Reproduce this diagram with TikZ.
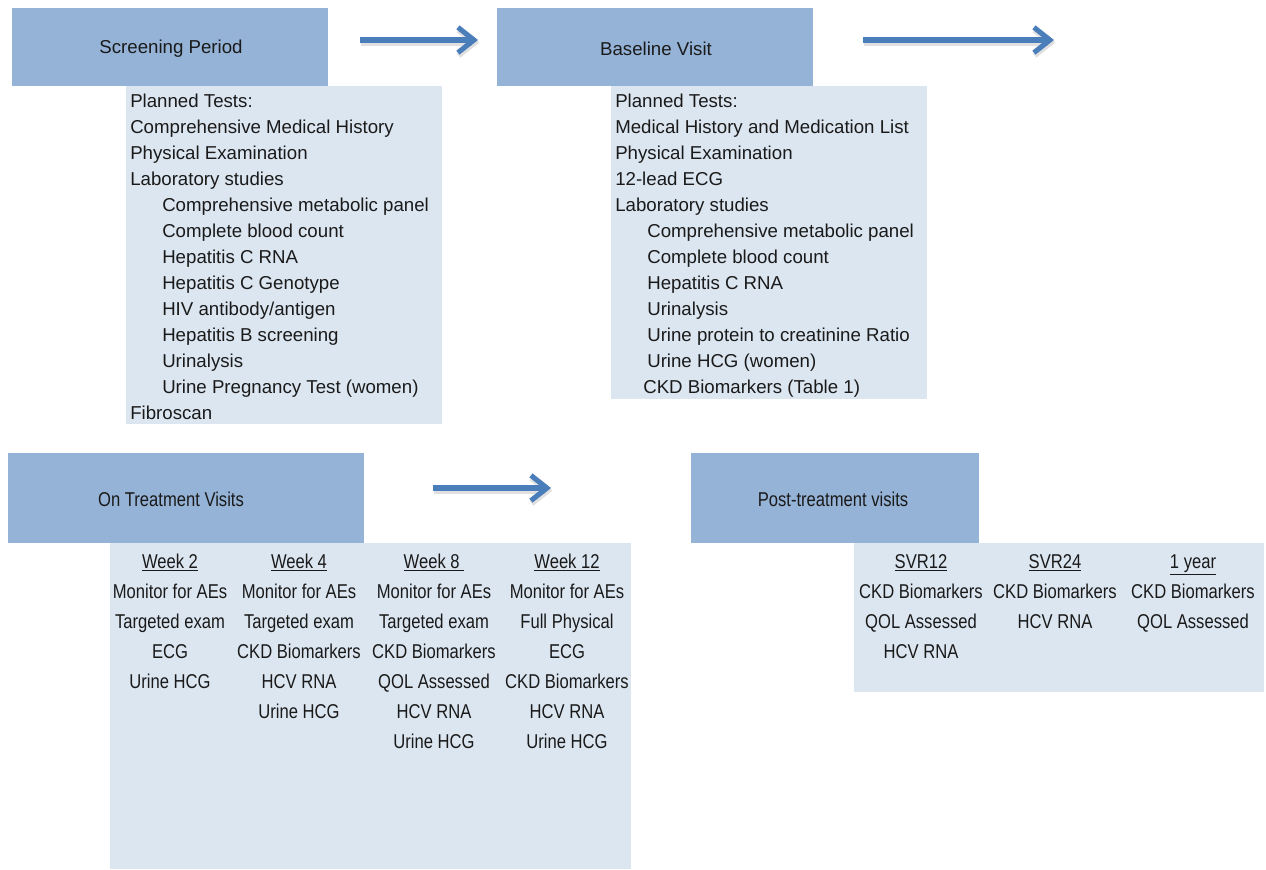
\documentclass[tikz,border=0pt]{standalone}
\usepackage{fontspec}
\setmainfont{Liberation Sans}
\newfontfamily\narrowfont[FakeStretch=0.83]{Liberation Sans}
\usetikzlibrary{arrows.meta}
\definecolor{hdrblue}{HTML}{95B3D7}
\definecolor{lstblue}{HTML}{DCE6F1}
\definecolor{arrowblue}{HTML}{4A7EBB}
\definecolor{txt}{HTML}{1A1A1A}
\begin{document}
\begin{tikzpicture}[x=0.75pt, y=-0.75pt,
  hdr/.style={fill=hdrblue, draw=none, inner sep=0pt, outer sep=0pt, anchor=north west},
  lst/.style={fill=lstblue, draw=none, inner sep=0pt, outer sep=0pt, anchor=north west},
  ltxt/.style={font=\fontsize{14}{16}\selectfont, text=txt, inner sep=0pt, anchor=base west},
  htxt/.style={font=\fontsize{14}{16}\selectfont, text=txt, inner sep=0pt, anchor=base},
  ctxt/.style={font=\narrowfont\fontsize{15}{17}\selectfont, text=txt, inner sep=0pt, anchor=base},
  flow/.style={draw=arrowblue, line width=3.8pt, -{Straight Barb[length=12pt,width=19pt]}},
  flowshadow/.style={draw=black, draw opacity=0.12, line width=4.5pt, -{Straight Barb[length=12pt,width=19pt]}, transform canvas={xshift=1pt, yshift=-2pt}}]
\useasboundingbox (0,0) rectangle (1266,869);

% ---------- boxes ----------
\node[hdr, minimum width=237pt, minimum height=58.5pt] (scrbox) at (12,8) {};
\node[lst, minimum width=237pt, minimum height=253.5pt] (scrlist) at (126,86) {};
\node[hdr, minimum width=237pt, minimum height=58.5pt] (basebox) at (497,8) {};
\node[lst, minimum width=237pt, minimum height=234.75pt] (baselist) at (611,86) {};
\node[hdr, minimum width=267pt, minimum height=67.5pt] (trtbox) at (8,453) {};
\node[lst, minimum width=390.75pt, minimum height=244.5pt] (trtlist) at (110,543) {};
\node[hdr, minimum width=216pt, minimum height=67.5pt] (postbox) at (691,453) {};
\node[lst, minimum width=307.5pt, minimum height=111.75pt] (postlist) at (854,543) {};

% ---------- header texts ----------
\node[htxt] (scrlbl) at (171,53) {Screening Period};
\node[htxt] (baselbl) at (656,55) {Baseline Visit};
\node[ctxt] (trtlbl) at (171,506) {On Treatment Visits};
\node[ctxt] (postlbl) at (833,506) {Post-treatment visits};

% ---------- arrows ----------
\coordinate (a1s) at (360,40);  \coordinate (a1e) at (478,40);
\coordinate (a2s) at (863,40);  \coordinate (a2e) at (1054,40);
\coordinate (a3s) at (433,488); \coordinate (a3e) at (551,488);
\draw[flowshadow] (a1s) -- (a1e);
\draw[flowshadow] (a2s) -- (a2e);
\draw[flowshadow] (a3s) -- (a3e);
\draw[flow] (a1s) -- (a1e);
\draw[flow] (a2s) -- (a2e);
\draw[flow] (a3s) -- (a3e);

% ---------- screening list ----------
\foreach \ind/\t [count=\i] in {0/{Planned Tests:},0/{Comprehensive Medical History},0/{Physical Examination},0/{Laboratory studies},1/{Comprehensive metabolic panel},1/{Complete blood count},1/{Hepatitis C RNA},1/{Hepatitis C Genotype},1/{HIV antibody/antigen},1/{Hepatitis B screening},1/{Urinalysis},1/{Urine Pregnancy Test (women)},0/{Fibroscan}}
  \node[ltxt] (s\i) at ({130+32*\ind},{107+26*(\i-1)}) {\t};

% ---------- baseline list ----------
\foreach \ind/\t [count=\i] in {0/{Planned Tests:},0/{Medical History and Medication List},0/{Physical Examination},0/{12-lead ECG},0/{Laboratory studies},1/{Comprehensive metabolic panel},1/{Complete blood count},1/{Hepatitis C RNA},1/{Urinalysis},1/{Urine protein to creatinine Ratio},1/{Urine HCG (women)}}
  \node[ltxt] (b\i) at ({615+32*\ind},{107+26*(\i-1)}) {\t};
\node[ltxt] (b12) at (643,393) {CKD Biomarkers (Table 1)};

% ---------- on treatment columns ----------
\node[ctxt] (w2h) at (170,568) {\underline{Week 2}};
\foreach \t [count=\i] in {Monitor for AEs,Targeted exam,ECG,Urine HCG}
  \node[ctxt] (w2r\i) at (170,{568+30*\i}) {\t};
\node[ctxt] (w4h) at (299,568) {\underline{Week 4}};
\foreach \t [count=\i] in {Monitor for AEs,Targeted exam,CKD Biomarkers,HCV RNA,Urine HCG}
  \node[ctxt] (w4r\i) at (299,{568+30*\i}) {\t};
\node[ctxt] (w8h) at (434,568) {\underline{Week 8\ }};
\foreach \t [count=\i] in {Monitor for AEs,Targeted exam,CKD Biomarkers,QOL Assessed,HCV RNA,Urine HCG}
  \node[ctxt] (w8r\i) at (434,{568+30*\i}) {\t};
\node[ctxt] (w12h) at (567,568) {\underline{Week 12}};
\foreach \t [count=\i] in {Monitor for AEs,Full Physical,ECG,CKD Biomarkers,HCV RNA,Urine HCG}
  \node[ctxt] (w12r\i) at (567,{568+30*\i}) {\t};

% ---------- post-treatment columns ----------
\node[ctxt] (p1h) at (921,568) {\underline{SVR12}};
\foreach \t [count=\i] in {CKD Biomarkers,QOL Assessed,HCV RNA}
  \node[ctxt] (p1r\i) at (921,{568+30*\i}) {\t};
\node[ctxt] (p2h) at (1055,568) {\underline{SVR24}};
\foreach \t [count=\i] in {CKD Biomarkers,HCV RNA}
  \node[ctxt] (p2r\i) at (1055,{568+30*\i}) {\t};
\node[ctxt] (p3h) at (1193,568) {\underline{1 year}};
\foreach \t [count=\i] in {CKD Biomarkers,QOL Assessed}
  \node[ctxt] (p3r\i) at (1193,{568+30*\i}) {\t};
\end{tikzpicture}
\end{document}
